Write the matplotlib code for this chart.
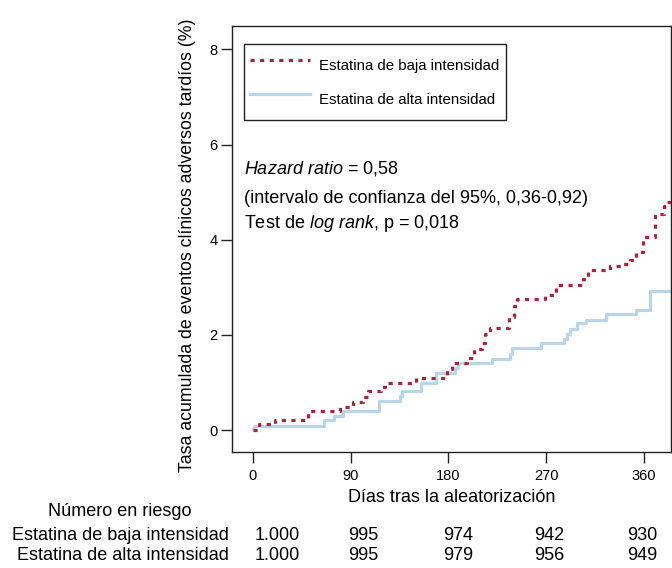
import matplotlib
matplotlib.use("Agg")
import matplotlib.pyplot as plt

plt.rcParams['font.family'] = ['Liberation Sans', 'DejaVu Sans']
plt.rcParams['mathtext.fontset'] = 'custom'
plt.rcParams['mathtext.rm'] = 'Liberation Sans'
plt.rcParams['mathtext.it'] = 'Liberation Sans:italic'

# ---------------- data ----------------
days_low = [0, 5, 6, 20, 51, 80, 92, 101, 106, 118, 122, 150, 179, 183, 197, 204,
            211, 214, 218, 236, 240, 243, 269, 279, 304, 309, 329, 340, 347, 353,
            359, 370, 379, 381, 390]
rate_low = [0.0, 0.02, 0.12, 0.21, 0.40, 0.49, 0.60, 0.70, 0.82, 0.90, 0.99, 1.10,
            1.28, 1.41, 1.51, 1.70, 1.83, 2.02, 2.14, 2.38, 2.60, 2.75, 2.83, 3.05,
            3.17, 3.36, 3.44, 3.48, 3.57, 3.75, 4.06, 4.55, 4.70, 4.80, 4.80]

days_high = [0, 1, 65, 75, 83, 116, 135, 137, 155, 169, 186, 189, 220, 237, 239,
             265, 286, 289, 292, 298, 307, 325, 353, 366, 390]
rate_high = [0.02, 0.09, 0.21, 0.30, 0.40, 0.62, 0.71, 0.82, 0.99, 1.21, 1.30, 1.41,
             1.49, 1.60, 1.72, 1.83, 1.91, 2.02, 2.13, 2.24, 2.32, 2.43, 2.52, 2.92,
             2.92]

series_labels = ["Estatina de baja intensidad", "Estatina de alta intensidad"]
x_ticks = [0, 90, 180, 270, 360]
y_ticks = [0, 2, 4, 6, 8]
risk_low = ["1.000", "995", "974", "942", "930"]
risk_high = ["1.000", "995", "979", "956", "949"]

# ---------------- figure ----------------
W, H = 672, 568
fig = plt.figure(figsize=(W/100, H/100), dpi=100)
ax = fig.add_axes([232/W, 1 - 452/H, 439/W, 426/H])

red = "#a9243a"
blue = "#bad4e9"

ax.step(days_low, rate_low, where="post", color=red, lw=2.3,
        linestyle=(0, (1.3, 1.7)), label=series_labels[0], zorder=3)
ax.step(days_high, rate_high, where="post", color=blue, lw=2.3,
        linestyle="-", label=series_labels[1], zorder=2)

ax.set_xlim(-19.3, 385)
ax.set_ylim(-0.46, 8.49)
ax.set_xticks(x_ticks)
ax.set_yticks(y_ticks)
ax.tick_params(axis="both", direction="out", length=8, width=1.0, labelsize=10.5,
               color="#222222")
ax.tick_params(axis="x", pad=4.5)
ax.tick_params(axis="y", pad=2.5)
for s in ax.spines.values():
    s.set_linewidth(1.0)
    s.set_color("#222222")

ax.set_xlabel("Días tras la aleatorización", fontsize=13, labelpad=4)
ax.set_ylabel("Tasa acumulada de eventos clínicos adversos tardíos (%)",
              fontsize=12.8)
ax.yaxis.set_label_coords((196 - 232)/439, (452 - 245)/426)

leg = ax.legend(loc="upper left", bbox_to_anchor=((244-232)/439, (452-44)/426),
                fancybox=False, edgecolor="#222222", framealpha=1,
                fontsize=10.8, handlelength=4.0, handleheight=2.65,
                labelspacing=0.3, borderpad=0.42, handletextpad=0.6,
                borderaxespad=0)
leg.get_frame().set_linewidth(1.0)

fs_ann = 13
ann_x = (244 - 232)/439
ax.text(ann_x, (452-173)/426, r"$\mathit{Hazard\ ratio}$ = 0,58",
        transform=ax.transAxes, fontsize=fs_ann, va="baseline")
ax.text(ann_x, (452-203)/426, "(intervalo de confianza del 95%, 0,36-0,92)",
        transform=ax.transAxes, fontsize=fs_ann, va="baseline")
ax.text(ann_x, (452-228)/426, r"Test de $\mathit{log\ rank}$, p = 0,018",
        transform=ax.transAxes, fontsize=fs_ann, va="baseline")

# ---------------- risk table ----------------
fs_tab = 13
row1_y, row2_y = 536, 555
fig.text(120/W, 1 - 512/H, "Número en riesgo", fontsize=fs_tab, ha="center", va="center")
fig.text(229/W, 1 - row1_y/H, series_labels[0], fontsize=fs_tab, ha="right", va="center")
fig.text(229/W, 1 - row2_y/H, series_labels[1], fontsize=fs_tab, ha="right", va="center")
col_off = [24, 13, 10, 3, -2]  # pixel offsets of the number columns
for i, xv in enumerate(x_ticks):
    xpix = ax.transData.transform((xv, 0))[0] + col_off[i]
    fig.text(xpix/W, 1 - row1_y/H, risk_low[i], fontsize=fs_tab, ha="center", va="center")
    fig.text(xpix/W, 1 - row2_y/H, risk_high[i], fontsize=fs_tab, ha="center", va="center")

fig.savefig("out.png", dpi=100)
